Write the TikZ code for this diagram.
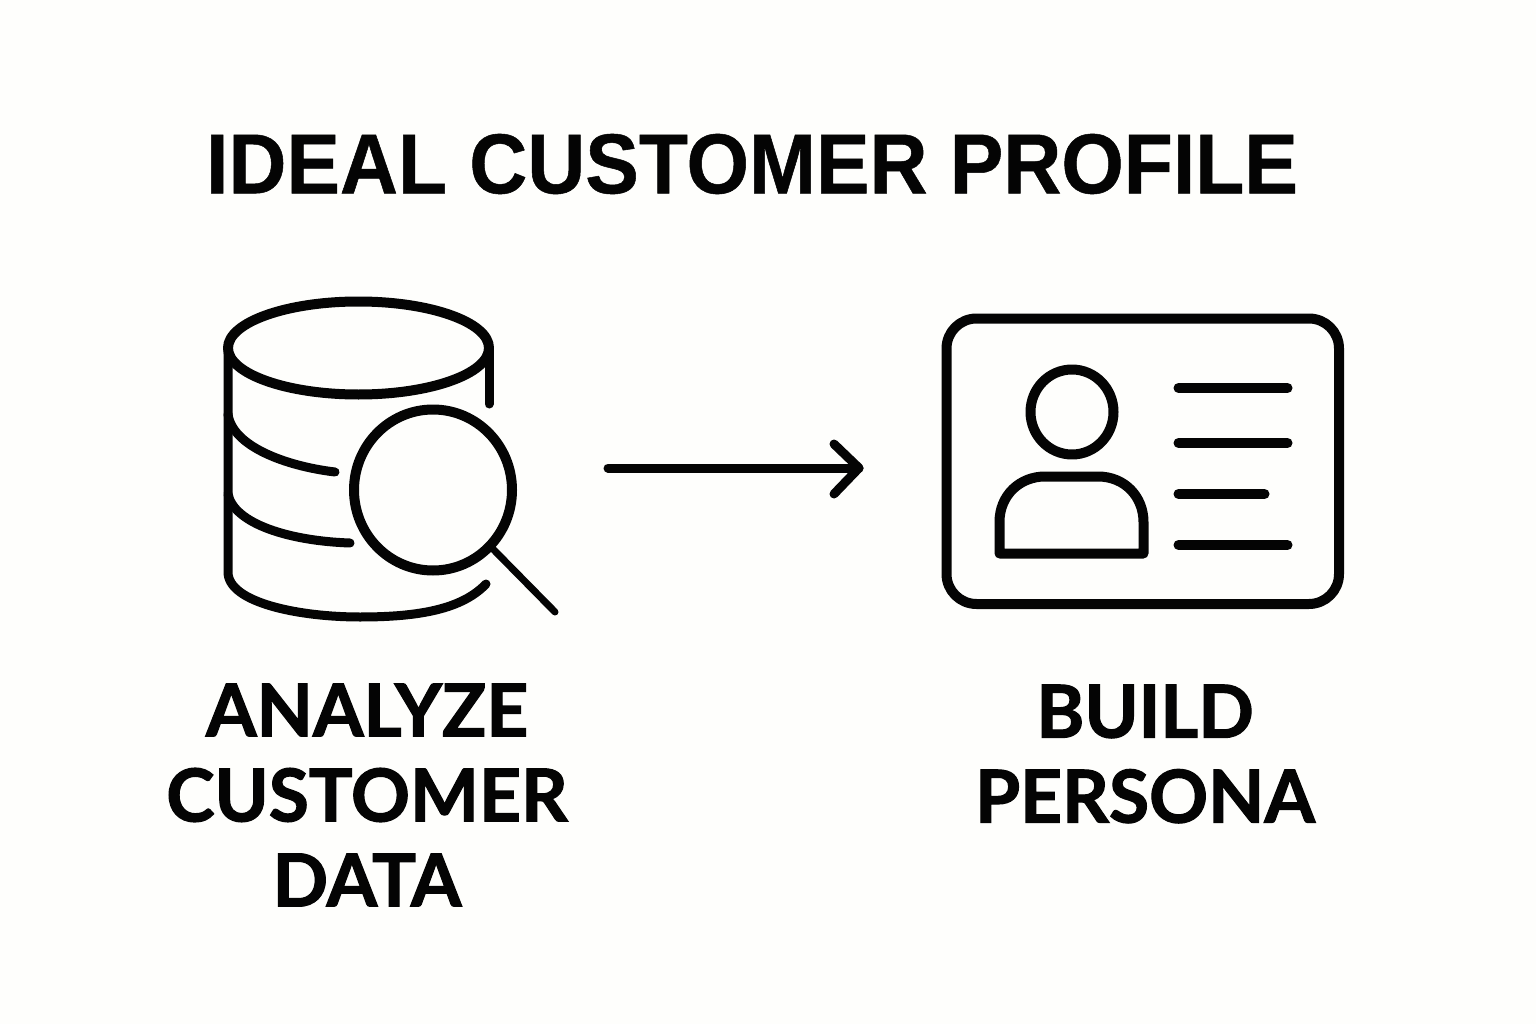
\documentclass[tikz,border=0pt]{standalone}
\usepackage{fontspec}
\setmainfont{Liberation Sans}
\newfontfamily\titlefont[FakeStretch=0.945,BoldFeatures={FakeBold=0.6}]{Liberation Sans}
\newfontfamily\capfont[BoldFeatures={FakeBold=1.6}]{Lato}
\definecolor{ink}{HTML}{040404}
\definecolor{paper}{HTML}{FEFEFC}
\tikzset{
  x=1pt,y=-1pt,
  icon/.style={draw=ink,line width=10pt,line cap=round,line join=round},
  title/.style={font=\titlefont\bfseries\fontsize{85}{85}\selectfont,text=ink,inner sep=0pt,anchor=center},
  caption/.style={font=\capfont\bfseries\fontsize{73}{85}\selectfont,text=ink,inner sep=0pt,align=center,anchor=center},
}
\begin{document}
\begin{tikzpicture}
\path[use as bounding box,fill=paper] (0,0) rectangle (1536,1024);
\node[title] (heading) at (752,164) {IDEAL CUSTOMER PROFILE};
% database
\draw[icon] (358.5,348) ellipse [x radius=130.5,y radius=46.5];
\draw[icon,line width=9pt] (228,348) -- (228,572) .. controls (228,603) and (300,617) .. (360,617) .. controls (420,617) and (462,609) .. (486,584);
\draw[icon,line width=9pt] (489,350) -- (489,404);
\draw[icon,line width=9pt] (228,414) .. controls (232,446) and (285,466) .. (335,472);
\draw[icon,line width=9pt] (228,494) .. controls (234,524) and (290,541) .. (350,543);
% magnifier
\draw[icon] (433,490) ellipse [x radius=79,y radius=80.5];
\draw[icon,line width=7pt] (492,548) -- (555,612);
% arrow
\coordinate (arrowstart) at (608,468);
\coordinate (arrowend) at (859,468);
\draw[icon,line width=9pt] (arrowstart) -- (arrowend);
\draw[icon,line width=9pt] (834,444) -- (arrowend) -- (834,494);
% card
\draw[icon,rounded corners=30pt] (946.5,318.5) rectangle (1339,604);
\draw[icon] (1072,412) ellipse [x radius=41.5,y radius=42.5];
\draw[icon] (999.5,553.5) -- (999.5,522) .. controls (999.5,495) and (1020,476.5) .. (1045,476.5) -- (1098,476.5) .. controls (1125,476.5) and (1143.5,497) .. (1143.5,522) -- (1143.5,553.5) -- cycle;
\draw[icon] (1178.5,388) -- (1287.5,388);
\draw[icon] (1178.5,443) -- (1287.5,443);
\draw[icon] (1178.5,494) -- (1264.5,494);
\draw[icon] (1178.5,545) -- (1287.5,545);
% captions
\node[caption] (analyze) at (367,795) {ANALYZE\\CUSTOMER\\DATA};
\node[caption] (build) at (1145,754) {BUILD\\PERSONA};
\end{tikzpicture}
\end{document}
